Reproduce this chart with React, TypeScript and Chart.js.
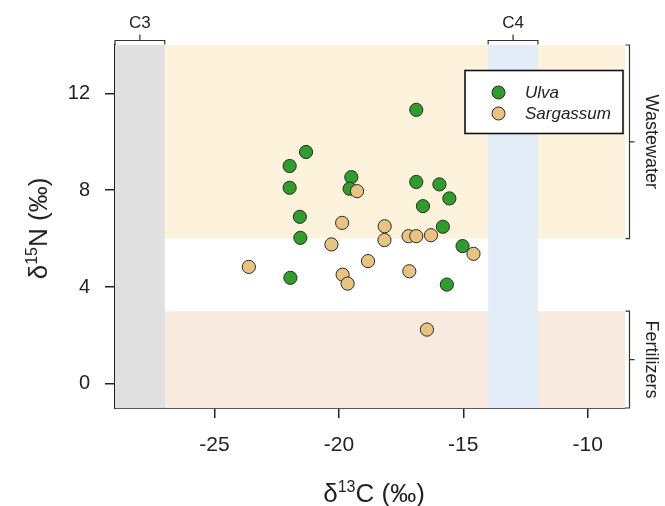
import React, { useEffect, useRef } from "react";
import { Chart, registerables } from "chart.js";

Chart.register(...registerables);

// ---- data ----
const X_MIN = -29;
const X_MAX = -8.5;
const Y_MIN = -1;
const Y_MAX = 14;
const X_TICKS = [-25, -20, -15, -10];
const Y_TICKS = [0, 4, 8, 12];

const C3_RANGE = [-29, -27];
const C4_RANGE = [-14, -12];
const WASTEWATER_RANGE = [6, 14];
const FERTILIZER_RANGE = [-1, 3];

const ULVA_X = [-16.89, -21.32, -21.98, -21.98, -19.5, -19.57, -16.89, -15.96, -15.56, -16.62, -21.57, -21.55, -15.82, -15.03, -21.95, -15.66];
const ULVA_Y = [11.32, 9.58, 9.0, 8.1, 8.54, 8.06, 8.34, 8.24, 7.66, 7.34, 6.9, 6.03, 6.49, 5.69, 4.38, 4.1];
const SARG_X = [-19.27, -19.87, -18.16, -18.17, -17.2, -16.89, -16.3, -20.3, -14.59, -23.62, -18.83, -19.85, -19.65, -17.17, -16.46];
const SARG_Y = [7.96, 6.65, 6.51, 5.94, 6.1, 6.1, 6.14, 5.76, 5.37, 4.83, 5.07, 4.51, 4.14, 4.65, 2.24];

const SERIES_NAMES = ["Ulva", "Sargassum"];
const BAND_LABELS = ["C3", "C4", "Wastewater", "Fertilizers"];

// ---- styles ----
const FONT = "'Liberation Sans', Arial, Helvetica, sans-serif";
const ULVA_COLOR = "#2f9c2c";
const SARG_COLOR = "#e8c482";
const EDGE = "#2b2b2b";
const AXIS = "#222222";

function drawSup(ctx: CanvasRenderingContext2D, parts: { t: string; sup: boolean }[], cx: number, baseline: number, size: number) {
  const supSize = Math.round(size * 0.62);
  let total = 0;
  const widths = parts.map((p) => {
    ctx.font = `${p.sup ? supSize : size}px ${FONT}`;
    const w = ctx.measureText(p.t).width;
    total += w;
    return w;
  });
  let x = cx - total / 2;
  ctx.textAlign = "left";
  ctx.textBaseline = "alphabetic";
  parts.forEach((p, i) => {
    ctx.font = `${p.sup ? supSize : size}px ${FONT}`;
    ctx.fillText(p.t, x, p.sup ? baseline - size * 0.38 : baseline);
    x += widths[i];
  });
}

const decorPlugin = {
  id: "decor",
  beforeDatasetsDraw(chart: any) {
    const { ctx, chartArea, scales } = chart;
    const xs = scales.x;
    const ys = scales.y;
    const px = (v: number) => xs.getPixelForValue(v);
    const py = (v: number) => ys.getPixelForValue(v);
    ctx.save();
    ctx.fillStyle = "#fdf3dc";
    ctx.fillRect(px(C3_RANGE[1]), py(WASTEWATER_RANGE[1]), chartArea.right - px(C3_RANGE[1]), py(WASTEWATER_RANGE[0]) - py(WASTEWATER_RANGE[1]));
    ctx.fillStyle = "#f9eadf";
    ctx.fillRect(px(C3_RANGE[1]), py(FERTILIZER_RANGE[1]), chartArea.right - px(C3_RANGE[1]), py(FERTILIZER_RANGE[0]) - py(FERTILIZER_RANGE[1]));
    ctx.fillStyle = "#e3edf8";
    ctx.fillRect(px(C4_RANGE[0]), chartArea.top, px(C4_RANGE[1]) - px(C4_RANGE[0]), chartArea.bottom - chartArea.top);
    ctx.fillStyle = "#e0e0e0";
    ctx.fillRect(px(C3_RANGE[0]), chartArea.top, px(C3_RANGE[1]) - px(C3_RANGE[0]), chartArea.bottom - chartArea.top);
    ctx.restore();
  },
  afterDraw(chart: any) {
    const { ctx, chartArea, scales } = chart;
    const xs = scales.x;
    const ys = scales.y;
    const px = (v: number) => xs.getPixelForValue(v);
    const py = (v: number) => ys.getPixelForValue(v);
    ctx.save();
    ctx.strokeStyle = "#333";
    ctx.fillStyle = "#222";
    ctx.lineWidth = 1.2;

    const topBracket = (a: number, b: number, label: string) => {
      const x1 = px(a), x2 = px(b), y = 40.5, m = (x1 + x2) / 2;
      ctx.beginPath();
      ctx.moveTo(x1, y + 4); ctx.lineTo(x1, y); ctx.lineTo(x2, y); ctx.lineTo(x2, y + 4);
      ctx.moveTo(m, y); ctx.lineTo(m, y - 6);
      ctx.stroke();
      ctx.font = `17px ${FONT}`;
      ctx.textAlign = "center";
      ctx.textBaseline = "alphabetic";
      ctx.fillText(label, m, 28);
    };
    topBracket(C3_RANGE[0], C3_RANGE[1], BAND_LABELS[0]);
    topBracket(C4_RANGE[0], C4_RANGE[1], BAND_LABELS[1]);

    const rightBracket = (a: number, b: number, label: string) => {
      const y1 = py(b), y2 = py(a), x = chartArea.right + 4.5, m = (y1 + y2) / 2;
      ctx.beginPath();
      ctx.moveTo(x - 4, y1); ctx.lineTo(x, y1); ctx.lineTo(x, y2); ctx.lineTo(x - 4, y2);
      ctx.moveTo(x, m); ctx.lineTo(x + 5, m);
      ctx.stroke();
      ctx.save();
      ctx.translate(x + 12, m);
      ctx.rotate(Math.PI / 2);
      ctx.font = `18px ${FONT}`;
      ctx.textAlign = "center";
      ctx.textBaseline = "bottom";
      ctx.fillText(label, 0, 0);
      ctx.restore();
    };
    rightBracket(WASTEWATER_RANGE[0], WASTEWATER_RANGE[1], BAND_LABELS[2]);
    rightBracket(FERTILIZER_RANGE[0], FERTILIZER_RANGE[1], BAND_LABELS[3]);

    // legend
    const lx = 465, ly = 70.5, lw = 158, lh = 63;
    ctx.fillStyle = "#ffffff";
    ctx.fillRect(lx, ly, lw, lh);
    ctx.strokeStyle = "#111";
    ctx.lineWidth = 1.6;
    ctx.strokeRect(lx, ly, lw, lh);
    const rows = [
      { name: SERIES_NAMES[0], color: ULVA_COLOR, y: 92.5 },
      { name: SERIES_NAMES[1], color: SARG_COLOR, y: 113.5 },
    ];
    rows.forEach((r) => {
      ctx.beginPath();
      ctx.arc(498.5, r.y, 6.5, 0, Math.PI * 2);
      ctx.fillStyle = r.color;
      ctx.fill();
      ctx.lineWidth = 1;
      ctx.strokeStyle = EDGE;
      ctx.stroke();
      ctx.fillStyle = "#222";
      ctx.font = `italic 17px ${FONT}`;
      ctx.textAlign = "left";
      ctx.textBaseline = "middle";
      ctx.fillText(r.name, 525, r.y + 1);
    });

    // axis titles
    ctx.fillStyle = "#222";
    drawSup(ctx, [{ t: "\u03b4", sup: false }, { t: "13", sup: true }, { t: "C (\u2030)", sup: false }], 374, 502, 26);
    ctx.save();
    ctx.translate(47, (chartArea.top + chartArea.bottom) / 2 + 2);
    ctx.rotate(-Math.PI / 2);
    drawSup(ctx, [{ t: "\u03b4", sup: false }, { t: "15", sup: true }, { t: "N (\u2030)", sup: false }], 0, 0, 26);
    ctx.restore();

    ctx.restore();
  },
};

export default function App() {
  const ref = useRef<HTMLCanvasElement | null>(null);

  useEffect(() => {
    document.body.style.margin = "0";
    const canvas = ref.current;
    if (!canvas) return;
    const chart = new Chart(canvas, {
      type: "scatter",
      data: {
        datasets: [
          {
            label: SERIES_NAMES[0],
            data: ULVA_X.map((x, i) => ({ x, y: ULVA_Y[i] })),
            backgroundColor: ULVA_COLOR,
            borderColor: EDGE,
            borderWidth: 1,
            pointRadius: 6.6,
            order: 1,
          },
          {
            label: SERIES_NAMES[1],
            data: SARG_X.map((x, i) => ({ x, y: SARG_Y[i] })),
            backgroundColor: SARG_COLOR,
            borderColor: EDGE,
            borderWidth: 1,
            pointRadius: 6.6,
            order: 0,
          },
        ],
      },
      options: {
        responsive: false,
        animation: false,
        layout: { padding: { top: 45, right: 40, left: 0, bottom: 0 } },
        plugins: {
          legend: { display: false },
          tooltip: { enabled: false },
          title: { display: false },
        },
        scales: {
          x: {
            type: "linear",
            min: X_MIN,
            max: X_MAX,
            afterBuildTicks: (s: any) => {
              s.ticks = X_TICKS.map((v) => ({ value: v }));
            },
            afterFit: (s: any) => {
              s.height = 98;
            },
            grid: { drawOnChartArea: false, drawTicks: true, tickLength: 10, color: AXIS, lineWidth: 1.5 },
            border: { display: true, color: AXIS, width: 1.8 },
            ticks: { color: "#222", font: { family: FONT, size: 21 }, padding: 15, maxRotation: 0 },
          },
          y: {
            type: "linear",
            min: Y_MIN,
            max: Y_MAX,
            afterBuildTicks: (s: any) => {
              s.ticks = Y_TICKS.map((v) => ({ value: v }));
            },
            afterFit: (s: any) => {
              s.width = 115;
            },
            grid: { drawOnChartArea: false, drawTicks: true, tickLength: 10, color: AXIS, lineWidth: 1.5 },
            border: { display: true, color: AXIS, width: 1.8 },
            ticks: { color: "#222", font: { family: FONT, size: 20 }, padding: 15 },
          },
        },
      },
      plugins: [decorPlugin],
    } as any);
    return () => chart.destroy();
  }, []);

  return (
    <div style={{ position: "fixed", left: 0, top: 0, width: 665, height: 506, background: "#fff" }}>
      <canvas ref={ref} width={665} height={506} style={{ display: "block", width: 665, height: 506 }} />
    </div>
  );
}
